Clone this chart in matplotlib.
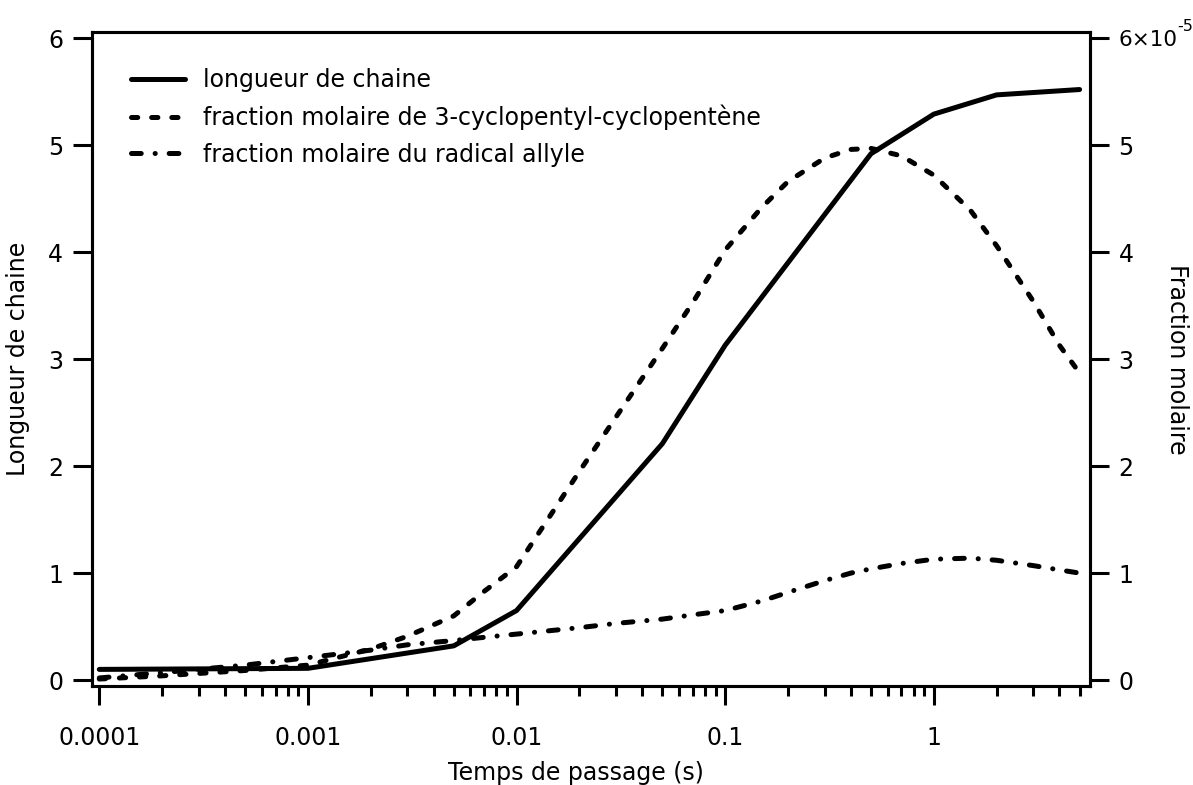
import matplotlib
matplotlib.use("Agg")
import matplotlib.pyplot as plt
from matplotlib.ticker import FixedLocator, LogLocator, NullFormatter

# temps de passage (s)
temps_chaine = [1e-4, 1e-3, 5e-3, 1e-2, 5e-2, 0.1, 0.5, 1, 2, 5]
longueur_chaine = [0.10, 0.11, 0.32, 0.65, 2.21, 3.13, 4.92, 5.29, 5.47, 5.52]

temps = [1e-4, 2e-4, 5e-4, 1e-3, 2e-3, 3e-3, 5e-3, 7e-3, 0.01, 0.02, 0.03,
         0.05, 0.07, 0.1, 0.15, 0.2, 0.3, 0.4, 0.5, 0.7, 1, 1.5, 2, 3, 4, 5]
# fractions molaires (x 1e-5)
x_cyclopentyl = [0.01, 0.04, 0.09, 0.14, 0.29, 0.41, 0.60, 0.83, 1.06, 1.95, 2.46,
                 3.10, 3.53, 4.02, 4.42, 4.66, 4.88, 4.96, 4.97, 4.90, 4.72, 4.39,
                 4.06, 3.54, 3.13, 2.87]
x_allyle = [0.02, 0.07, 0.14, 0.21, 0.28, 0.33, 0.37, 0.40, 0.43, 0.49, 0.53,
            0.57, 0.61, 0.65, 0.74, 0.82, 0.93, 1.00, 1.04, 1.09, 1.13, 1.14,
            1.12, 1.07, 1.03, 1.00]

x_ticks = [1e-4, 1e-3, 1e-2, 0.1, 1]
x_labels = ["0.0001", "0.001", "0.01", "0.1", "1"]
droite_labels = ["0", "1", "2", "3", "4", "5", "6×10"]

plt.rcParams["font.family"] = ["DejaVu Sans"]
plt.rcParams["lines.scale_dashes"] = False
fs = 17

fig = plt.figure(figsize=(11.93, 7.85), dpi=100)
ax = fig.add_axes([0.0769, 0.126, 0.8368, 0.833])
ax2 = ax.twinx()

lw = 3.6
l1, = ax.plot(temps_chaine, longueur_chaine, color="black", lw=lw,
              solid_capstyle="round", label="longueur de chaine")
l2, = ax2.plot(temps, [v * 1e-5 for v in x_cyclopentyl], color="black", lw=lw,
               dashes=(4.5, 10), dash_capstyle="round",
               label="fraction molaire de 3-cyclopentyl-cyclopentène")
l3, = ax2.plot(temps, [v * 1e-5 for v in x_allyle], color="black", lw=lw,
               dashes=(7, 10, 0.1, 10), dash_capstyle="round",
               label="fraction molaire du radical allyle")

ax.set_xscale("log")
ax.set_xlim(9.2e-5, 5.61)
ax.set_ylim(-0.056, 6.056)
ax2.set_ylim(-0.056e-5, 6.056e-5)

ax.xaxis.set_major_locator(FixedLocator(x_ticks))
ax.set_xticklabels(x_labels)
ax.xaxis.set_minor_locator(LogLocator(base=10, subs=range(2, 10), numticks=20))
ax.xaxis.set_minor_formatter(NullFormatter())
ax.set_yticks(range(0, 7))

ax2.set_yticks([k * 1e-5 for k in range(0, 7)])
ax2.set_yticklabels(droite_labels)

for a in (ax, ax2):
    for s in a.spines.values():
        s.set_linewidth(2.2)
ax.tick_params(axis="x", which="major", direction="out", length=13.5, width=2.2,
               pad=15, labelsize=fs)
ax.tick_params(axis="x", which="minor", direction="out", length=7, width=2.2)
ax.tick_params(axis="y", direction="out", length=13.5, width=2.2, pad=7, labelsize=fs)
ax2.tick_params(axis="y", direction="out", length=13.5, width=2.2, pad=7, labelsize=fs)
# le dernier label (6×10) un peu plus petit, exposant à part
ax2.get_yticklabels()[-1].set_fontsize(15.5)
ax2.text(1.0 + 87 / 996, 6.04e-5, "-5", transform=ax2.get_yaxis_transform(),
         fontsize=11.5, ha="left", va="bottom")

ax.set_xlabel("Temps de passage (s)", fontsize=fs)
ax.xaxis.set_label_coords(0.485, -0.114)
ax.set_ylabel("Longueur de chaine", fontsize=fs)
ax.yaxis.set_label_coords(-0.062, 0.5)
ax2.set_ylabel("Fraction molaire", fontsize=fs, rotation=270, va="bottom")
ax2.yaxis.set_label_coords(1.075, 0.5)

ax.legend(handles=[l1, l2, l3], loc="upper left", frameon=False, fontsize=fs,
          handlelength=2.3, handletextpad=0.76, labelspacing=0.53,
          borderpad=0, borderaxespad=0, bbox_to_anchor=(0.039, 0.945))

fig.savefig("out.png", dpi=100)
